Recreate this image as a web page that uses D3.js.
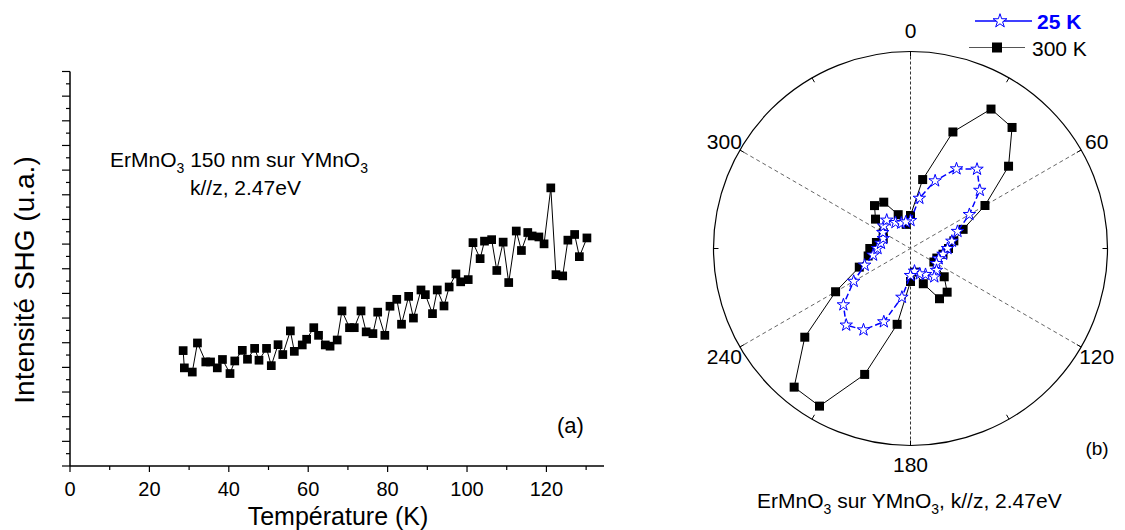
<!DOCTYPE html>
<html><head><meta charset="utf-8">
<script src="https://cdn.jsdelivr.net/npm/d3@7"></script>
<style>
body{margin:0;background:#fff;}
text{font-family:"Liberation Sans",Arial,sans-serif;fill:#000;}
</style></head>
<body>
<svg id="c" width="1125" height="530"></svg>
<script>
// ---- Panel (a): SHG intensity vs temperature ----
const temperature = [28.5,28.8,30.8,32.1,34.2,35.4,37.1,38.4,40.3,41.5,43.4,44.7,46.5,47.6,49.5,50.7,52.4,53.6,55.5,56.5,58.5,59.6,61.4,62.6,64.3,65.5,67.3,68.5,70.4,71.6,73.3,74.6,76.3,77.5,79.3,80.6,82.3,83.5,85.3,86.5,88.4,89.5,91.3,92.5,94.2,95.5,97.2,98.4,100.3,101.5,103.3,104.4,106.2,107.5,109.1,110.5,112.4,113.7,115.3,116.4,118.1,119.4,121.1,122.4,124.1,125.4,127.1,128.3,130.2];
const intensity = [4.68,3.98,3.81,4.99,4.22,4.22,3.98,4.32,3.75,4.26,4.69,4.33,4.77,4.29,4.77,4.07,4.92,4.52,5.48,4.65,4.91,5.14,5.61,5.30,4.91,4.86,5.11,6.29,5.61,5.61,6.29,5.44,5.37,6.24,5.30,6.48,6.76,5.75,6.88,6.00,7.14,6.95,6.18,7.14,6.49,7.26,7.79,7.47,7.56,9.06,8.41,9.12,9.18,7.93,9.08,7.44,9.53,8.74,9.47,9.33,9.29,9.01,11.28,7.76,7.71,9.16,9.39,8.49,9.25];
const xTicksMajor = [0,20,40,60,80,100,120];
const xTicksMinor = [10,30,50,70,90,110,130];

// ---- Panel (b): polar SHG patterns ----
const angles = [0,10,20,30,40,50,60,70,80,90,100,110,120,130,140,150,160,170,180,190,200,210,220,230,240,250,260,270,280,290,300,310,320,330,340,350];
const r300K = [33,70,124,161,158,128,86,56,44,38,33,28,27,44,57,58,37.5,24,33,77,134,182,181,138,86.5,54.5,43,40.7,34.6,29,31.5,45.7,56,53.5,36,24.5];
const r25K  = [28,51,72,92,103.5,90.5,68,50,42,37,33,30,30,34,37,30,27,23,27,49.5,78,94,100,87.6,65.6,48.8,38,33,30,29,32,35,37,30,27,27];
const angleLabels = [0,60,120,180,240,300];
const seriesNames = ["25 K","300 K"];

const svg = d3.select("#c");

// ===== Panel (a) =====
const x = d3.scaleLinear().domain([0,134.5]).range([70,604]);
const y = d3.scaleLinear().domain([0,16]).range([466,71.5]);

const gA = svg.append("g");
gA.append("line").attr("x1",x(0)).attr("x2",x(134.5)).attr("y1",y(0)).attr("y2",y(0)).attr("stroke","#000").attr("stroke-width",1.5);
gA.append("line").attr("x1",x(0)).attr("x2",x(0)).attr("y1",y(0)).attr("y2",y(16)).attr("stroke","#000").attr("stroke-width",1.5);
gA.selectAll(".xt").data(xTicksMajor).enter().append("line")
  .attr("x1",d=>x(d)).attr("x2",d=>x(d)).attr("y1",y(0)).attr("y2",y(0)+6).attr("stroke","#000").attr("stroke-width",1.2);
gA.selectAll(".xm").data(xTicksMinor).enter().append("line")
  .attr("x1",d=>x(d)).attr("x2",d=>x(d)).attr("y1",y(0)).attr("y2",y(0)+4).attr("stroke","#000").attr("stroke-width",1.2);
gA.selectAll(".xl").data(xTicksMajor).enter().append("text")
  .attr("x",d=>x(d)).attr("y",496).attr("text-anchor","middle").attr("font-size",20).text(d=>d);
const yMaj = d3.range(0,17,1), yMin = d3.range(0.5,16,1);
gA.selectAll(".yt").data(yMaj).enter().append("line")
  .attr("x1",x(0)-8).attr("x2",x(0)).attr("y1",d=>y(d)).attr("y2",d=>y(d)).attr("stroke","#000").attr("stroke-width",1.2);
gA.selectAll(".ym").data(yMin).enter().append("line")
  .attr("x1",x(0)-4).attr("x2",x(0)).attr("y1",d=>y(d)).attr("y2",d=>y(d)).attr("stroke","#000").attr("stroke-width",1.2);
gA.append("text").attr("x",338).attr("y",525).attr("text-anchor","middle").attr("font-size",25).text("Température (K)");
gA.append("text").attr("transform","translate(34,280) rotate(-90)").attr("text-anchor","middle").attr("font-size",28).text("Intensité SHG (u.a.)");
const ptsA = temperature.map((t,i)=>[t,intensity[i]]);
gA.append("path").datum(ptsA).attr("fill","none").attr("stroke","#000").attr("stroke-width",1)
  .attr("d",d3.line().x(d=>x(d[0])).y(d=>y(d[1])));
gA.selectAll(".pa").data(ptsA).enter().append("path")
  .attr("transform",d=>`translate(${x(d[0])},${y(d[1])})`)
  .attr("d",d3.symbol().type(d3.symbolSquare).size(76)).attr("fill","#000");
const t1 = gA.append("text").attr("x",110).attr("y",167).attr("font-size",21);
t1.append("tspan").text("ErMnO");
t1.append("tspan").attr("font-size",14).attr("dy",6).text("3");
t1.append("tspan").attr("dy",-6).text(" 150 nm sur YMnO");
t1.append("tspan").attr("font-size",14).attr("dy",6).text("3");
gA.append("text").attr("x",190).attr("y",195).attr("font-size",21).text("k//z, 2.47eV");
gA.append("text").attr("x",557).attr("y",433).attr("font-size",22).text("(a)");

// ===== Panel (b) =====
const cx = 910.5, cy = 248.5, R = 197;
const rs = d3.scaleLinear().domain([0,197]).range([0,R]);
const gB = svg.append("g").attr("transform",`translate(${cx},${cy})`);
const rad = a => a*Math.PI/180;
[0,60,120].forEach(a=>{
  gB.append("line")
    .attr("x1",R*Math.sin(rad(a))).attr("y1",-R*Math.cos(rad(a)))
    .attr("x2",-R*Math.sin(rad(a))).attr("y2",R*Math.cos(rad(a)))
    .attr("stroke",a===0?"#333":"#666").attr("stroke-width",1)
    .attr("stroke-dasharray",a===0?"3,2":"4,3");
});
gB.append("circle").attr("r",R).attr("fill","none").attr("stroke","#000").attr("stroke-width",1.2);
d3.range(0,360,30).forEach(a=>{
  gB.append("line")
    .attr("x1",R*Math.sin(rad(a))).attr("y1",-R*Math.cos(rad(a)))
    .attr("x2",(R-5)*Math.sin(rad(a))).attr("y2",-(R-5)*Math.cos(rad(a)))
    .attr("stroke","#000").attr("stroke-width",1);
});
angleLabels.forEach(a=>{
  const rr = a===0 ? R+22 : R+18;
  gB.append("text").attr("x",rr*Math.sin(rad(a))).attr("y",-rr*Math.cos(rad(a))+8)
    .attr("text-anchor","middle").attr("font-size",21).text(a);
});
const radialLine = d3.lineRadial().angle(d=>rad(d[0])).radius(d=>rs(d[1])).curve(d3.curveLinearClosed);
const p300 = angles.map((a,i)=>[a,r300K[i]]);
const p25 = angles.map((a,i)=>[a,r25K[i]]);
const pos = d=>[rs(d[1])*Math.sin(rad(d[0])), -rs(d[1])*Math.cos(rad(d[0]))];
gB.append("path").datum(p300).attr("fill","none").attr("stroke","#000").attr("stroke-width",1).attr("d",radialLine);
gB.selectAll(".s300").data(p300).enter().append("path")
  .attr("transform",d=>`translate(${pos(d)[0]},${pos(d)[1]})`)
  .attr("d",d3.symbol().type(d3.symbolSquare).size(81)).attr("fill","#000");
gB.append("path").datum(p25).attr("fill","none").attr("stroke","#0000ff").attr("stroke-width",1.5)
  .attr("stroke-dasharray","6,3").attr("d",radialLine);
gB.selectAll(".s25").data(p25).enter().append("path")
  .attr("transform",d=>`translate(${pos(d)[0]},${pos(d)[1]})`)
  .attr("d",d3.symbol().type(d3.symbolStar).size(48)).attr("fill","#fff").attr("stroke","#0000ff").attr("stroke-width",1);

// legend
const lg = svg.append("g");
lg.append("line").attr("x1",975).attr("x2",1032).attr("y1",21).attr("y2",21).attr("stroke","#0000ff").attr("stroke-width",1.5);
lg.append("path").attr("transform","translate(1000,21)").attr("d",d3.symbol().type(d3.symbolStar).size(60)).attr("fill","#fff").attr("stroke","#0000ff").attr("stroke-width",1);
lg.append("text").attr("x",1037).attr("y",28.5).attr("font-size",21).attr("font-weight","bold").style("fill","#0000ff").text(seriesNames[0]);
lg.append("line").attr("x1",969).attr("x2",1025).attr("y1",47.5).attr("y2",47.5).attr("stroke","#555").attr("stroke-width",1.2);
lg.append("path").attr("transform","translate(997,47.5)").attr("d",d3.symbol().type(d3.symbolSquare).size(100)).attr("fill","#000");
lg.append("text").attr("x",1032).attr("y",55.5).attr("font-size",21).text(seriesNames[1]);

svg.append("text").attr("x",1097).attr("y",455).attr("text-anchor","middle").attr("font-size",19).text("(b)");
const cap = svg.append("text").attr("x",757).attr("y",508).attr("font-size",21);
cap.append("tspan").text("ErMnO");
cap.append("tspan").attr("font-size",14).attr("dy",6).text("3");
cap.append("tspan").attr("dy",-6).text(" sur YMnO");
cap.append("tspan").attr("font-size",14).attr("dy",6).text("3");
cap.append("tspan").attr("dy",-6).text(", k//z, 2.47eV");
</script>
</body></html>
